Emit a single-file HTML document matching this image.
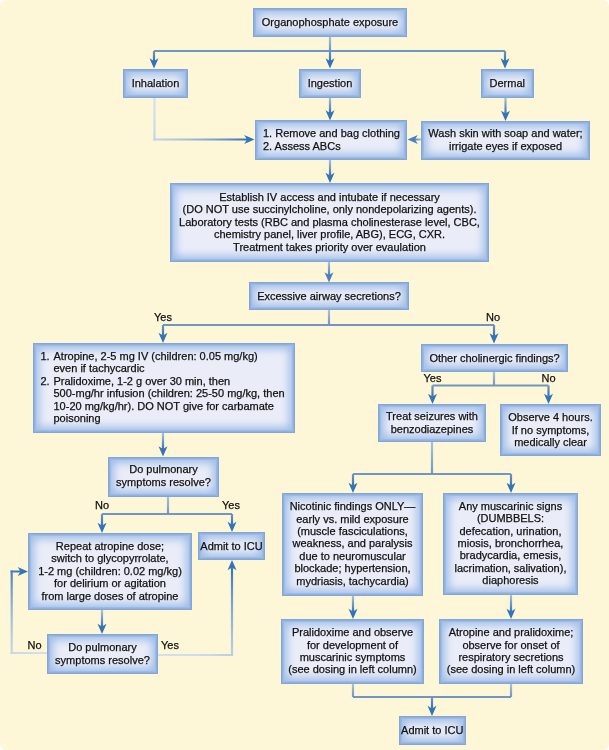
<!DOCTYPE html>
<html><head><meta charset="utf-8"><style>
html,body{margin:0;padding:0;background:#fff;}
#c{position:relative;width:609px;height:750px;background:#fef7d7;border-radius:6px;overflow:hidden;filter:blur(0.35px);font-family:"Liberation Sans",sans-serif;color:#111;}
svg{position:absolute;left:0;top:0;}
.box{position:absolute;box-sizing:border-box;background:#eaedf8;box-shadow:inset 0 0 0 1px #84a6d6,inset 0 0 0 2px #8fb1e0,inset 0 0 0 3px #9bbae6,inset 0 0 8px 6px #9fbde8;display:flex;align-items:center;justify-content:center;text-align:center;font-size:11px;line-height:12.4px;-webkit-text-stroke:0.25px #111;}
.box.l{justify-content:flex-start;text-align:left;padding-left:8px;}
.t{position:relative;}
.li{position:relative;padding-left:13px;}
.li .n{position:absolute;left:0;top:0;}
.lab{position:absolute;width:60px;text-align:center;font-size:11px;line-height:12px;-webkit-text-stroke:0.25px #111;}
</style></head><body><div id="c">
<svg width="609" height="750" viewBox="0 0 609 750"><defs><linearGradient id="g0" gradientUnits="userSpaceOnUse" x1="330.0" y1="36.8" x2="330.0" y2="61.3"><stop offset="0.0" stop-color="#a8c1de"/><stop offset="0.25" stop-color="#8baed4"/><stop offset="0.5" stop-color="#6e9acb"/><stop offset="0.75" stop-color="#5086c2"/><stop offset="1.0" stop-color="#3373b8"/></linearGradient><linearGradient id="g1" gradientUnits="userSpaceOnUse" x1="154.0" y1="51.0" x2="154.0" y2="61.3"><stop offset="0.0" stop-color="#6f96c4"/><stop offset="0.25" stop-color="#608dc1"/><stop offset="0.5" stop-color="#5184be"/><stop offset="0.75" stop-color="#427cbb"/><stop offset="1.0" stop-color="#3373b8"/></linearGradient><linearGradient id="g2" gradientUnits="userSpaceOnUse" x1="505.0" y1="51.0" x2="505.0" y2="61.3"><stop offset="0.0" stop-color="#6f96c4"/><stop offset="0.25" stop-color="#608dc1"/><stop offset="0.5" stop-color="#5184be"/><stop offset="0.75" stop-color="#427cbb"/><stop offset="1.0" stop-color="#3373b8"/></linearGradient><linearGradient id="g3" gradientUnits="userSpaceOnUse" x1="154.5" y1="97.5" x2="154.5" y2="139.5"><stop offset="0.0" stop-color="#d2e0ee"/><stop offset="0.25" stop-color="#d1dfee"/><stop offset="0.5" stop-color="#cedded"/><stop offset="0.75" stop-color="#c9daeb"/><stop offset="1.0" stop-color="#c3d5e9"/></linearGradient><linearGradient id="g4" gradientUnits="userSpaceOnUse" x1="154.5" y1="139.5" x2="247.3" y2="139.5"><stop offset="0.0" stop-color="#c3d5e9"/><stop offset="0.25" stop-color="#adc6e1"/><stop offset="0.5" stop-color="#8eb1d7"/><stop offset="0.75" stop-color="#6595c9"/><stop offset="1.0" stop-color="#3373b8"/></linearGradient><linearGradient id="g5" gradientUnits="userSpaceOnUse" x1="330.0" y1="97.5" x2="330.0" y2="113.3"><stop offset="0.0" stop-color="#a8c1de"/><stop offset="0.25" stop-color="#8baed4"/><stop offset="0.5" stop-color="#6e9acb"/><stop offset="0.75" stop-color="#5086c2"/><stop offset="1.0" stop-color="#3373b8"/></linearGradient><linearGradient id="g6" gradientUnits="userSpaceOnUse" x1="505.5" y1="97.5" x2="505.5" y2="113.8"><stop offset="0.0" stop-color="#a8c1de"/><stop offset="0.25" stop-color="#8baed4"/><stop offset="0.5" stop-color="#6e9acb"/><stop offset="0.75" stop-color="#5086c2"/><stop offset="1.0" stop-color="#3373b8"/></linearGradient><linearGradient id="g7" gradientUnits="userSpaceOnUse" x1="421.0" y1="139.5" x2="414.7" y2="139.5"><stop offset="0.0" stop-color="#a8c1de"/><stop offset="0.25" stop-color="#90b1d6"/><stop offset="0.5" stop-color="#79a0cf"/><stop offset="0.75" stop-color="#6290c8"/><stop offset="1.0" stop-color="#4a80c0"/></linearGradient><linearGradient id="g8" gradientUnits="userSpaceOnUse" x1="330.0" y1="160.0" x2="330.0" y2="175.8"><stop offset="0.0" stop-color="#a8c1de"/><stop offset="0.25" stop-color="#8baed4"/><stop offset="0.5" stop-color="#6e9acb"/><stop offset="0.75" stop-color="#5086c2"/><stop offset="1.0" stop-color="#3373b8"/></linearGradient><linearGradient id="g9" gradientUnits="userSpaceOnUse" x1="329.0" y1="262.0" x2="329.0" y2="275.3"><stop offset="0.0" stop-color="#a8c1de"/><stop offset="0.25" stop-color="#90b1d6"/><stop offset="0.5" stop-color="#79a0cf"/><stop offset="0.75" stop-color="#6290c8"/><stop offset="1.0" stop-color="#4a80c0"/></linearGradient><linearGradient id="g10" gradientUnits="userSpaceOnUse" x1="329.0" y1="310.0" x2="329.0" y2="325.0"><stop offset="0.0" stop-color="#a8c1de"/><stop offset="0.25" stop-color="#9ab6d8"/><stop offset="0.5" stop-color="#8cacd1"/><stop offset="0.75" stop-color="#7da1ca"/><stop offset="1.0" stop-color="#6f96c4"/></linearGradient><linearGradient id="g11" gradientUnits="userSpaceOnUse" x1="163.0" y1="325.0" x2="163.0" y2="335.8"><stop offset="0.0" stop-color="#6f96c4"/><stop offset="0.25" stop-color="#608dc1"/><stop offset="0.5" stop-color="#5184be"/><stop offset="0.75" stop-color="#427cbb"/><stop offset="1.0" stop-color="#3373b8"/></linearGradient><linearGradient id="g12" gradientUnits="userSpaceOnUse" x1="494.0" y1="325.0" x2="494.0" y2="336.3"><stop offset="0.0" stop-color="#6f96c4"/><stop offset="0.25" stop-color="#608dc1"/><stop offset="0.5" stop-color="#5184be"/><stop offset="0.75" stop-color="#427cbb"/><stop offset="1.0" stop-color="#3373b8"/></linearGradient><linearGradient id="g13" gradientUnits="userSpaceOnUse" x1="163.0" y1="433.0" x2="163.0" y2="449.3"><stop offset="0.0" stop-color="#a8c1de"/><stop offset="0.25" stop-color="#8baed4"/><stop offset="0.5" stop-color="#6e9acb"/><stop offset="0.75" stop-color="#5086c2"/><stop offset="1.0" stop-color="#3373b8"/></linearGradient><linearGradient id="g14" gradientUnits="userSpaceOnUse" x1="494.0" y1="372.0" x2="494.0" y2="385.5"><stop offset="0.0" stop-color="#a8c1de"/><stop offset="0.25" stop-color="#9ab6d8"/><stop offset="0.5" stop-color="#8cacd1"/><stop offset="0.75" stop-color="#7da1ca"/><stop offset="1.0" stop-color="#6f96c4"/></linearGradient><linearGradient id="g15" gradientUnits="userSpaceOnUse" x1="432.5" y1="385.5" x2="432.5" y2="396.8"><stop offset="0.0" stop-color="#6f96c4"/><stop offset="0.25" stop-color="#608dc1"/><stop offset="0.5" stop-color="#5184be"/><stop offset="0.75" stop-color="#427cbb"/><stop offset="1.0" stop-color="#3373b8"/></linearGradient><linearGradient id="g16" gradientUnits="userSpaceOnUse" x1="548.5" y1="385.5" x2="548.5" y2="396.8"><stop offset="0.0" stop-color="#6f96c4"/><stop offset="0.25" stop-color="#608dc1"/><stop offset="0.5" stop-color="#5184be"/><stop offset="0.75" stop-color="#427cbb"/><stop offset="1.0" stop-color="#3373b8"/></linearGradient><linearGradient id="g17" gradientUnits="userSpaceOnUse" x1="432.0" y1="442.0" x2="432.0" y2="474.0"><stop offset="0.0" stop-color="#a8c1de"/><stop offset="0.25" stop-color="#9ab6d8"/><stop offset="0.5" stop-color="#8cacd1"/><stop offset="0.75" stop-color="#7da1ca"/><stop offset="1.0" stop-color="#6f96c4"/></linearGradient><linearGradient id="g18" gradientUnits="userSpaceOnUse" x1="353.0" y1="474.0" x2="353.0" y2="485.8"><stop offset="0.0" stop-color="#6f96c4"/><stop offset="0.25" stop-color="#608dc1"/><stop offset="0.5" stop-color="#5184be"/><stop offset="0.75" stop-color="#427cbb"/><stop offset="1.0" stop-color="#3373b8"/></linearGradient><linearGradient id="g19" gradientUnits="userSpaceOnUse" x1="511.0" y1="474.0" x2="511.0" y2="485.8"><stop offset="0.0" stop-color="#6f96c4"/><stop offset="0.25" stop-color="#608dc1"/><stop offset="0.5" stop-color="#5184be"/><stop offset="0.75" stop-color="#427cbb"/><stop offset="1.0" stop-color="#3373b8"/></linearGradient><linearGradient id="g20" gradientUnits="userSpaceOnUse" x1="353.0" y1="596.0" x2="353.0" y2="611.8"><stop offset="0.0" stop-color="#a8c1de"/><stop offset="0.25" stop-color="#8baed4"/><stop offset="0.5" stop-color="#6e9acb"/><stop offset="0.75" stop-color="#5086c2"/><stop offset="1.0" stop-color="#3373b8"/></linearGradient><linearGradient id="g21" gradientUnits="userSpaceOnUse" x1="511.0" y1="595.0" x2="511.0" y2="611.8"><stop offset="0.0" stop-color="#a8c1de"/><stop offset="0.25" stop-color="#8baed4"/><stop offset="0.5" stop-color="#6e9acb"/><stop offset="0.75" stop-color="#5086c2"/><stop offset="1.0" stop-color="#3373b8"/></linearGradient><linearGradient id="g22" gradientUnits="userSpaceOnUse" x1="353.0" y1="684.0" x2="353.0" y2="697.0"><stop offset="0.0" stop-color="#a8c1de"/><stop offset="0.25" stop-color="#9ab6d8"/><stop offset="0.5" stop-color="#8cacd1"/><stop offset="0.75" stop-color="#7da1ca"/><stop offset="1.0" stop-color="#6f96c4"/></linearGradient><linearGradient id="g23" gradientUnits="userSpaceOnUse" x1="511.0" y1="684.0" x2="511.0" y2="697.0"><stop offset="0.0" stop-color="#a8c1de"/><stop offset="0.25" stop-color="#9ab6d8"/><stop offset="0.5" stop-color="#8cacd1"/><stop offset="0.75" stop-color="#7da1ca"/><stop offset="1.0" stop-color="#6f96c4"/></linearGradient><linearGradient id="g24" gradientUnits="userSpaceOnUse" x1="432.0" y1="697.0" x2="432.0" y2="708.8"><stop offset="0.0" stop-color="#6f96c4"/><stop offset="0.25" stop-color="#608dc1"/><stop offset="0.5" stop-color="#5184be"/><stop offset="0.75" stop-color="#427cbb"/><stop offset="1.0" stop-color="#3373b8"/></linearGradient><linearGradient id="g25" gradientUnits="userSpaceOnUse" x1="168.0" y1="496.5" x2="168.0" y2="514.0"><stop offset="0.0" stop-color="#a8c1de"/><stop offset="0.25" stop-color="#9ab6d8"/><stop offset="0.5" stop-color="#8cacd1"/><stop offset="0.75" stop-color="#7da1ca"/><stop offset="1.0" stop-color="#6f96c4"/></linearGradient><linearGradient id="g26" gradientUnits="userSpaceOnUse" x1="102.0" y1="514.0" x2="102.0" y2="525.8"><stop offset="0.0" stop-color="#6f96c4"/><stop offset="0.25" stop-color="#608dc1"/><stop offset="0.5" stop-color="#5184be"/><stop offset="0.75" stop-color="#427cbb"/><stop offset="1.0" stop-color="#3373b8"/></linearGradient><linearGradient id="g27" gradientUnits="userSpaceOnUse" x1="232.0" y1="514.0" x2="232.0" y2="524.8"><stop offset="0.0" stop-color="#6f96c4"/><stop offset="0.25" stop-color="#608dc1"/><stop offset="0.5" stop-color="#5184be"/><stop offset="0.75" stop-color="#427cbb"/><stop offset="1.0" stop-color="#3373b8"/></linearGradient><linearGradient id="g28" gradientUnits="userSpaceOnUse" x1="102.0" y1="610.0" x2="102.0" y2="626.8"><stop offset="0.0" stop-color="#a8c1de"/><stop offset="0.25" stop-color="#8baed4"/><stop offset="0.5" stop-color="#6e9acb"/><stop offset="0.75" stop-color="#5086c2"/><stop offset="1.0" stop-color="#3373b8"/></linearGradient><linearGradient id="g29" gradientUnits="userSpaceOnUse" x1="47.0" y1="653.0" x2="11.7" y2="653.0"><stop offset="0.0" stop-color="#d2e0ee"/><stop offset="0.25" stop-color="#d1dfee"/><stop offset="0.5" stop-color="#cfdeed"/><stop offset="0.75" stop-color="#cbdbec"/><stop offset="1.0" stop-color="#c6d7ea"/></linearGradient><linearGradient id="g30" gradientUnits="userSpaceOnUse" x1="11.7" y1="653.0" x2="11.7" y2="571.5"><stop offset="0.0" stop-color="#c6d7ea"/><stop offset="0.25" stop-color="#b3cbe3"/><stop offset="0.5" stop-color="#98b8da"/><stop offset="0.75" stop-color="#75a0ce"/><stop offset="1.0" stop-color="#4982c0"/></linearGradient><linearGradient id="g31" gradientUnits="userSpaceOnUse" x1="11.7" y1="571.5" x2="20.8" y2="571.5"><stop offset="0.0" stop-color="#4982c0"/><stop offset="0.25" stop-color="#447ebe"/><stop offset="0.5" stop-color="#3e7bbc"/><stop offset="0.75" stop-color="#3977ba"/><stop offset="1.0" stop-color="#3373b8"/></linearGradient><linearGradient id="g32" gradientUnits="userSpaceOnUse" x1="158.0" y1="655.0" x2="232.0" y2="655.0"><stop offset="0.0" stop-color="#d2e0ee"/><stop offset="0.25" stop-color="#d1dfee"/><stop offset="0.5" stop-color="#cddcec"/><stop offset="0.75" stop-color="#c4d7e9"/><stop offset="1.0" stop-color="#b8cee5"/></linearGradient><linearGradient id="g33" gradientUnits="userSpaceOnUse" x1="232.0" y1="655.0" x2="232.0" y2="567.2"><stop offset="0.0" stop-color="#b8cee5"/><stop offset="0.25" stop-color="#a2bfde"/><stop offset="0.5" stop-color="#85abd4"/><stop offset="0.75" stop-color="#6092c7"/><stop offset="1.0" stop-color="#3373b8"/></linearGradient></defs><line x1="154.00" y1="51.00" x2="505.00" y2="51.00" stroke="#6f96c4" stroke-width="2.2"/><line x1="330.00" y1="36.80" x2="330.00" y2="61.30" stroke="url(#g0)" stroke-width="2.2"/><path d="M330.00,68.50 L325.50,58.20 L330.00,61.00 L334.50,58.20 Z" fill="#3373b8"/><line x1="154.00" y1="51.00" x2="154.00" y2="61.30" stroke="url(#g1)" stroke-width="2.2"/><path d="M154.00,68.50 L149.50,58.20 L154.00,61.00 L158.50,58.20 Z" fill="#3373b8"/><line x1="505.00" y1="51.00" x2="505.00" y2="61.30" stroke="url(#g2)" stroke-width="2.2"/><path d="M505.00,68.50 L500.50,58.20 L505.00,61.00 L509.50,58.20 Z" fill="#3373b8"/><line x1="154.50" y1="97.50" x2="154.50" y2="140.60" stroke="url(#g3)" stroke-width="2.2"/><line x1="153.40" y1="139.50" x2="247.30" y2="139.50" stroke="url(#g4)" stroke-width="2.2"/><path d="M254.50,139.50 L244.20,144.00 L247.00,139.50 L244.20,135.00 Z" fill="#3373b8"/><line x1="330.00" y1="97.50" x2="330.00" y2="113.30" stroke="url(#g5)" stroke-width="2.2"/><path d="M330.00,120.50 L325.50,110.20 L330.00,113.00 L334.50,110.20 Z" fill="#3373b8"/><line x1="505.50" y1="97.50" x2="505.50" y2="113.80" stroke="url(#g6)" stroke-width="2.2"/><path d="M505.50,121.00 L501.00,110.70 L505.50,113.50 L510.00,110.70 Z" fill="#3373b8"/><line x1="421.00" y1="139.50" x2="414.70" y2="139.50" stroke="url(#g7)" stroke-width="2.2"/><path d="M407.50,139.50 L417.80,135.00 L415.00,139.50 L417.80,144.00 Z" fill="#4a80c0"/><line x1="330.00" y1="160.00" x2="330.00" y2="175.80" stroke="url(#g8)" stroke-width="2.2"/><path d="M330.00,183.00 L325.50,172.70 L330.00,175.50 L334.50,172.70 Z" fill="#3373b8"/><line x1="329.00" y1="262.00" x2="329.00" y2="275.30" stroke="url(#g9)" stroke-width="2.2"/><path d="M329.00,282.50 L324.50,272.20 L329.00,275.00 L333.50,272.20 Z" fill="#4a80c0"/><line x1="329.00" y1="310.00" x2="329.00" y2="325.00" stroke="url(#g10)" stroke-width="2.2"/><line x1="329.00" y1="325.00" x2="163.00" y2="325.00" stroke="#6f96c4" stroke-width="2.2"/><line x1="329.00" y1="325.00" x2="494.00" y2="325.00" stroke="#6f96c4" stroke-width="2.2"/><line x1="163.00" y1="325.00" x2="163.00" y2="335.80" stroke="url(#g11)" stroke-width="2.2"/><path d="M163.00,343.00 L158.50,332.70 L163.00,335.50 L167.50,332.70 Z" fill="#3373b8"/><line x1="494.00" y1="325.00" x2="494.00" y2="336.30" stroke="url(#g12)" stroke-width="2.2"/><path d="M494.00,343.50 L489.50,333.20 L494.00,336.00 L498.50,333.20 Z" fill="#3373b8"/><line x1="163.00" y1="433.00" x2="163.00" y2="449.30" stroke="url(#g13)" stroke-width="2.2"/><path d="M163.00,456.50 L158.50,446.20 L163.00,449.00 L167.50,446.20 Z" fill="#3373b8"/><line x1="494.00" y1="372.00" x2="494.00" y2="385.50" stroke="url(#g14)" stroke-width="2.2"/><line x1="494.00" y1="385.50" x2="432.50" y2="385.50" stroke="#6f96c4" stroke-width="2.2"/><line x1="494.00" y1="385.50" x2="548.50" y2="385.50" stroke="#6f96c4" stroke-width="2.2"/><line x1="432.50" y1="385.50" x2="432.50" y2="396.80" stroke="url(#g15)" stroke-width="2.2"/><path d="M432.50,404.00 L428.00,393.70 L432.50,396.50 L437.00,393.70 Z" fill="#3373b8"/><line x1="548.50" y1="385.50" x2="548.50" y2="396.80" stroke="url(#g16)" stroke-width="2.2"/><path d="M548.50,404.00 L544.00,393.70 L548.50,396.50 L553.00,393.70 Z" fill="#3373b8"/><line x1="432.00" y1="442.00" x2="432.00" y2="474.00" stroke="url(#g17)" stroke-width="2.2"/><line x1="432.00" y1="474.00" x2="353.00" y2="474.00" stroke="#6f96c4" stroke-width="2.2"/><line x1="432.00" y1="474.00" x2="511.00" y2="474.00" stroke="#6f96c4" stroke-width="2.2"/><line x1="353.00" y1="474.00" x2="353.00" y2="485.80" stroke="url(#g18)" stroke-width="2.2"/><path d="M353.00,493.00 L348.50,482.70 L353.00,485.50 L357.50,482.70 Z" fill="#3373b8"/><line x1="511.00" y1="474.00" x2="511.00" y2="485.80" stroke="url(#g19)" stroke-width="2.2"/><path d="M511.00,493.00 L506.50,482.70 L511.00,485.50 L515.50,482.70 Z" fill="#3373b8"/><line x1="353.00" y1="596.00" x2="353.00" y2="611.80" stroke="url(#g20)" stroke-width="2.2"/><path d="M353.00,619.00 L348.50,608.70 L353.00,611.50 L357.50,608.70 Z" fill="#3373b8"/><line x1="511.00" y1="595.00" x2="511.00" y2="611.80" stroke="url(#g21)" stroke-width="2.2"/><path d="M511.00,619.00 L506.50,608.70 L511.00,611.50 L515.50,608.70 Z" fill="#3373b8"/><line x1="353.00" y1="684.00" x2="353.00" y2="697.00" stroke="url(#g22)" stroke-width="2.2"/><line x1="511.00" y1="684.00" x2="511.00" y2="697.00" stroke="url(#g23)" stroke-width="2.2"/><line x1="353.00" y1="697.00" x2="511.00" y2="697.00" stroke="#6f96c4" stroke-width="2.2"/><line x1="432.00" y1="697.00" x2="432.00" y2="708.80" stroke="url(#g24)" stroke-width="2.2"/><path d="M432.00,716.00 L427.50,705.70 L432.00,708.50 L436.50,705.70 Z" fill="#3373b8"/><line x1="168.00" y1="496.50" x2="168.00" y2="514.00" stroke="url(#g25)" stroke-width="2.2"/><line x1="168.00" y1="514.00" x2="102.00" y2="514.00" stroke="#6f96c4" stroke-width="2.2"/><line x1="168.00" y1="514.00" x2="232.00" y2="514.00" stroke="#6f96c4" stroke-width="2.2"/><line x1="102.00" y1="514.00" x2="102.00" y2="525.80" stroke="url(#g26)" stroke-width="2.2"/><path d="M102.00,533.00 L97.50,522.70 L102.00,525.50 L106.50,522.70 Z" fill="#3373b8"/><line x1="232.00" y1="514.00" x2="232.00" y2="524.80" stroke="url(#g27)" stroke-width="2.2"/><path d="M232.00,532.00 L227.50,521.70 L232.00,524.50 L236.50,521.70 Z" fill="#3373b8"/><line x1="102.00" y1="610.00" x2="102.00" y2="626.80" stroke="url(#g28)" stroke-width="2.2"/><path d="M102.00,634.00 L97.50,623.70 L102.00,626.50 L106.50,623.70 Z" fill="#3373b8"/><line x1="47.00" y1="653.00" x2="10.60" y2="653.00" stroke="url(#g29)" stroke-width="2.2"/><line x1="11.70" y1="654.10" x2="11.70" y2="570.40" stroke="url(#g30)" stroke-width="2.2"/><line x1="10.60" y1="571.50" x2="20.80" y2="571.50" stroke="url(#g31)" stroke-width="2.2"/><path d="M28.00,571.50 L17.70,576.00 L20.50,571.50 L17.70,567.00 Z" fill="#3373b8"/><line x1="158.00" y1="655.00" x2="233.10" y2="655.00" stroke="url(#g32)" stroke-width="2.2"/><line x1="232.00" y1="656.10" x2="232.00" y2="567.20" stroke="url(#g33)" stroke-width="2.2"/><path d="M232.00,560.00 L236.50,570.30 L232.00,567.50 L227.50,570.30 Z" fill="#3373b8"/></svg>
<div class="box" style="left:253px;top:8px;width:154px;height:28.799999999999997px"><div class="t" style="top:-0.0px">Organophosphate exposure</div></div><div class="box" style="left:123px;top:68.5px;width:65px;height:29.0px"><div class="t" style="top:-0.0px">Inhalation</div></div><div class="box" style="left:299px;top:68.5px;width:62px;height:29.0px"><div class="t" style="top:-0.0px">Ingestion</div></div><div class="box" style="left:480.5px;top:68.5px;width:53.5px;height:29.0px"><div class="t" style="top:-0.0px">Dermal</div></div><div class="box l" style="left:255px;top:120px;width:152px;height:40px"><div class="t" style="top:-0.15px">1. Remove and bag clothing<br>2. Assess ABCs</div></div><div class="box" style="left:421px;top:120.5px;width:169px;height:39.0px"><div class="t" style="top:-0.15px">Wash skin with soap and water;<br>irrigate eyes if exposed</div></div><div class="box" style="left:170px;top:183px;width:319px;height:79px"><div class="t" style="top:-0.6px">Establish IV access and intubate if necessary<br>(DO NOT use succinylcholine, only nondepolarizing agents).<br>Laboratory tests (RBC and plasma cholinesterase level, CBC,<br>chemistry panel, liver profile, ABG), ECG, CXR.<br>Treatment takes priority over evaulation</div></div><div class="box" style="left:249px;top:282px;width:160px;height:28px"><div class="t" style="top:-0.0px">Excessive airway secretions?</div></div><div class="box l" style="left:32.5px;top:343px;width:262.5px;height:90px"><div class="t" style="top:-0.9px"><div class="li"><span class="n">1.</span>Atropine, 2-5 mg IV (children: 0.05 mg/kg)<br>even if tachycardic</div><div class="li"><span class="n">2.</span>Pralidoxime, 1-2 g over 30 min, then<br>500-mg/hr infusion (children: 25-50 mg/kg, then<br>10-20 mg/kg/hr). DO NOT give for carbamate<br>poisoning</div></div></div><div class="box" style="left:421px;top:344px;width:147px;height:28px"><div class="t" style="top:-0.0px">Other cholinergic findings?</div></div><div class="box" style="left:378px;top:404px;width:108px;height:38px"><div class="t" style="top:-0.15px">Treat seizures with<br>benzodiazepines</div></div><div class="box" style="left:500px;top:404px;width:101px;height:52px"><div class="t" style="top:-0.3px">Observe 4 hours.<br>If no symptoms,<br>medically clear</div></div><div class="box" style="left:108px;top:457px;width:111px;height:39.5px"><div class="t" style="top:-1.2px">Do pulmonary<br>symptoms resolve?</div></div><div class="box" style="left:28px;top:533px;width:164px;height:77px"><div class="t" style="top:-0.6px">Repeat atropine dose;<br>switch to glycopyrrolate,<br>1-2 mg (children: 0.02 mg/kg)<br>for delirium or agitation<br>from large doses of atropine</div></div><div class="box" style="left:198px;top:532px;width:67px;height:28px"><div class="t" style="top:-0.0px">Admit to ICU</div></div><div class="box" style="left:47px;top:634px;width:111px;height:39.5px"><div class="t" style="top:-0.15px">Do pulmonary<br>symptoms resolve?</div></div><div class="box" style="left:282px;top:493px;width:141px;height:103px"><div class="t" style="top:-0.9px">Nicotinic findings ONLY—<br>early vs. mild exposure<br>(muscle fasciculations,<br>weakness, and paralysis<br>due to neuromuscular<br>blockade; hypertension,<br>mydriasis, tachycardia)</div></div><div class="box" style="left:443px;top:493px;width:135px;height:102px"><div class="t" style="top:-0.9px">Any muscarinic signs<br>(DUMBBELS:<br>defecation, urination,<br>miosis, bronchorrhea,<br>bradycardia, emesis,<br>lacrimation, salivation),<br>diaphoresis</div></div><div class="box" style="left:281px;top:619px;width:143px;height:65px"><div class="t" style="top:-0.45px">Pralidoxime and observe<br>for development of<br>muscarinic symptoms<br>(see dosing in left column)</div></div><div class="box" style="left:439px;top:619px;width:144px;height:65px"><div class="t" style="top:-0.45px">Atropine and pralidoxime;<br>observe for onset of<br>respiratory secretions<br>(see dosing in left column)</div></div><div class="box" style="left:398.5px;top:716px;width:67.5px;height:28.5px"><div class="t" style="top:-0.0px">Admit to ICU</div></div>
<div class="lab" style="left:133px;top:311px">Yes</div><div class="lab" style="left:463px;top:311px">No</div><div class="lab" style="left:402.5px;top:371.5px">Yes</div><div class="lab" style="left:518.5px;top:371.5px">No</div><div class="lab" style="left:72px;top:499px">No</div><div class="lab" style="left:201px;top:499px">Yes</div><div class="lab" style="left:4.5px;top:639px">No</div><div class="lab" style="left:140px;top:639px">Yes</div>
</div></body></html>
